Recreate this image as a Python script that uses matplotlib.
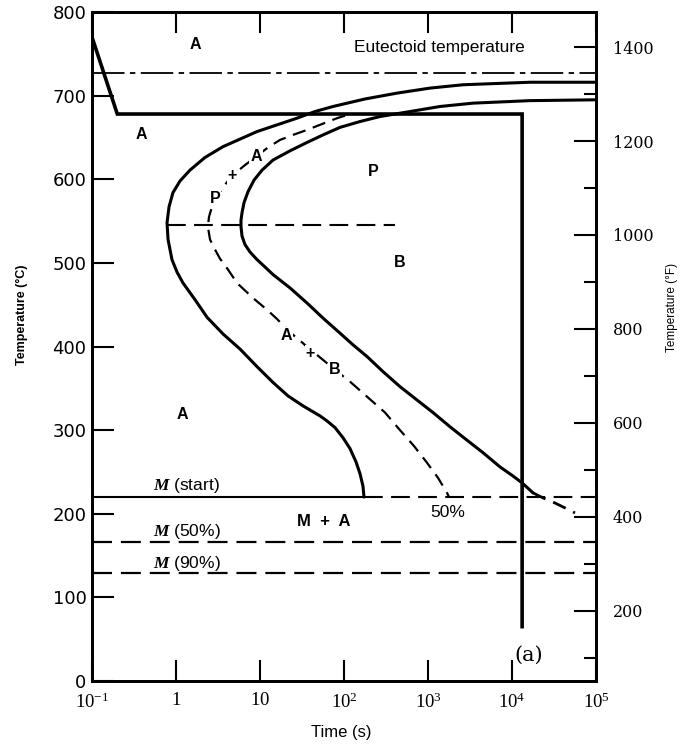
import matplotlib
matplotlib.use("Agg")
import matplotlib.pyplot as plt
from matplotlib.ticker import FixedLocator, NullLocator, FixedFormatter

plt.rcParams['font.family'] = ['Liberation Sans', 'DejaVu Sans']
plt.rcParams['mathtext.fontset'] = 'custom'
plt.rcParams['mathtext.rm'] = 'Liberation Serif'
plt.rcParams['mathtext.it'] = 'Liberation Serif:italic:bold'
plt.rcParams['mathtext.bf'] = 'Liberation Serif:bold'

# ---------------- data ----------------
# transformation start curve (solid)
start_time = [1e5, 16370, 2612, 1057, 428, 178, 74.0, 45.2, 27.5, 15.9,
              9.20, 5.78, 3.63, 2.21, 1.47, 1.117, 0.920, 0.826, 0.782, 0.804,
              0.895, 1.028, 1.211, 1.683, 2.339, 3.63, 5.78, 9.20, 14.29, 21.5,
              32.5, 51.8, 62.8, 78.2, 97.2, 117.8, 139.0, 155.0, 168.3, 173.0]
start_temp = [716, 716, 713, 709, 703, 696, 687, 681, 673, 665,
              657, 648, 639, 626, 611, 598, 584, 567, 548, 528,
              504, 489, 476, 456, 435, 415, 397, 376, 357, 341,
              329, 317, 311, 303, 291, 278, 262, 248, 233, 220]

# 50 % transformation curve (dashed)
half_time = [102.8, 82.6, 54.7, 36.3, 24.7, 17.3, 12.45, 8.96, 6.45, 4.64,
             3.73, 2.99, 2.68, 2.47, 2.40, 2.54, 2.91, 3.34, 4.16, 5.32,
             6.62, 8.71, 12.1, 15.9, 19.9, 24.7, 32.5, 39.4, 49.0, 62.8,
             78.2, 117.8, 188, 308, 464, 681, 973, 1315, 1683, 1778]
half_temp = [676, 673, 666, 659, 653, 647, 638, 627, 616, 604,
             592, 578, 567, 555, 543, 528, 516, 505, 492, 476,
             467, 456, 444, 433, 423, 414, 404, 396, 389, 380,
             372, 358, 340, 321, 300, 281, 261, 243, 225, 220]

# transformation finish curve (solid part, then dashed tail)
finish_time = [1e5, 16370, 3436, 1389, 611, 405, 268, 155, 89.5, 56.2,
               36.3, 22.8, 14.3, 10.6, 8.49, 7.19, 6.45, 6.11, 5.94, 5.94,
               6.11, 6.62, 7.60, 9.20, 11.48, 14.29, 22.8, 36.3, 56.2, 89.5,
               128, 188, 291, 464, 740, 1148, 1828, 2911, 4519, 7194,
               10000, 13150, 17780]
finish_temp = [695, 694, 691, 687, 681, 678, 675, 669, 662, 653,
               644, 634, 623, 611, 599, 585, 572, 560, 551, 543,
               532, 522, 513, 504, 495, 486, 470, 452, 434, 416,
               402, 388, 370, 352, 336, 321, 304, 288, 273, 256,
               246, 237, 225]
finish_tail_time = [17780, 23390, 30760, 42760, 56230]
finish_tail_temp = [225, 219, 214, 207, 201]

# cooling path
cool_time = [0.1, 0.2, 1.32e4, 1.32e4]
cool_temp = [770, 678, 678, 65]

eutectoid_temp = 727
ms_temp = 220
m50_temp = 166
m90_temp = 129
bay_temp = 545
bay_time = [0.78, 405]

x_ticks = [1e-1, 1, 10, 1e2, 1e3, 1e4, 1e5]
x_labels = ['$10^{-1}$', '$1$', '$10$', '$10^{2}$', '$10^{3}$', '$10^{4}$', '$10^{5}$']
c_ticks = [0, 100, 200, 300, 400, 500, 600, 700, 800]
f_ticks = [200, 400, 600, 800, 1000, 1200, 1400]
f_minor = [100, 300, 500, 700, 900, 1100, 1300]
f_limits = [50, 1475]

# region labels: text, time, temperature
open_labels = [("A", 1.68, 761), ("A", 0.383, 653), ("P", 221, 609),
               ("B", 464, 501), ("A", 1.18, 319)]
curve_labels = [("A", 8.96, 627), ("+", 4.64, 604), ("P", 2.91, 577),
                ("A", 20.4, 413), ("+", 39.4, 392), ("B", 78, 372)]

# ---------------- figure ----------------
W, H = 685, 744
fig = plt.figure(figsize=(W / 100, H / 100), dpi=100)
ax = fig.add_axes([92 / W, 63 / H, 504 / W, 669 / H])
ax.set_xscale('log')
ax.set_xlim(1e-1, 1e5)
ax.set_ylim(0, 800)

k = 'black'
solid = dict(color=k, lw=2.2, solid_joinstyle='round', solid_capstyle='round', zorder=3)
ax.plot(start_time, start_temp, **solid)
ax.plot(half_time, half_temp, color=k, lw=1.6, dashes=(6, 3.5), zorder=3)
ax.plot(finish_time, finish_temp, **solid)
ax.plot(finish_tail_time, finish_tail_temp, color=k, lw=2.0, dashes=(5, 3), zorder=3)
ax.plot(cool_time, cool_temp, color=k, lw=2.6, solid_joinstyle='miter', zorder=4)

ax.axhline(eutectoid_temp, color=k, lw=1.3, dashes=(18, 3, 3, 3))
ax.plot([1e-1, start_time[-1]], [ms_temp, ms_temp], color=k, lw=1.5)
ax.plot([start_time[-1], 1e5], [ms_temp, ms_temp], color=k, lw=1.5, dashes=(9, 4))
ax.axhline(m50_temp, color=k, lw=1.6, dashes=(9, 4))
ax.axhline(m90_temp, color=k, lw=1.6, dashes=(9, 4))
ax.plot(bay_time, [bay_temp, bay_temp], color=k, lw=1.5, dashes=(9, 4))

# ---- axes styling ----
for s in ax.spines.values():
    s.set_linewidth(2.0)
ax.xaxis.set_major_locator(FixedLocator(x_ticks))
ax.xaxis.set_major_formatter(FixedFormatter(x_labels))
ax.xaxis.set_minor_locator(NullLocator())
ax.yaxis.set_major_locator(FixedLocator(c_ticks))
ax.yaxis.set_minor_locator(NullLocator())
ax.tick_params(axis='x', which='major', direction='in', length=15, width=1.5,
               top=True, bottom=True, labelsize=13.5, pad=8)
ax.tick_params(axis='y', which='major', direction='in', length=16, width=1.5,
               left=True, right=False, labelsize=13, pad=4)
for lab in ax.get_yticklabels():
    lab.set_family('DejaVu Sans')

ax2 = ax.twinx()
ax2.set_ylim(*f_limits)
ax2.yaxis.set_major_locator(FixedLocator(f_ticks))
ax2.yaxis.set_minor_locator(FixedLocator(f_minor))
ax2.tick_params(axis='y', which='major', direction='in', length=16, width=1.5,
                labelsize=11.5, pad=12)
ax2.tick_params(axis='y', which='minor', direction='in', length=9, width=1.5)
for lab in ax2.get_yticklabels():
    lab.set_family('DejaVu Serif')
for s in ax2.spines.values():
    s.set_linewidth(2.0)

# ---- texts ----
for txt, t, T in open_labels:
    ax.text(t, T, txt, ha='center', va='center', fontsize=11.5, fontweight='bold')
for txt, t, T in curve_labels:
    ax.text(t, T, txt, ha='center', va='center', fontsize=11.5, fontweight='bold',
            zorder=5, bbox=dict(facecolor='white', edgecolor='none', pad=0.6))

ax.text(1380, 757, 'Eutectoid temperature', ha='center', va='center', fontsize=12.5)
ax.text(0.53, 234, '$M$ (start)', ha='left', va='center', fontsize=12.5)
ax.text(0.53, 179, '$M$ (50%)', ha='left', va='center', fontsize=12.5)
ax.text(0.53, 141, '$M$ (90%)', ha='left', va='center', fontsize=12.5)
ax.text(57.8, 191, 'M  +  A', ha='center', va='center', fontsize=12, fontweight='bold')
ax.text(1740, 201, '50%', ha='center', va='center', fontsize=12.5)
ax.text(1.58e4, 31, '(a)', ha='center', va='center', fontsize=15, family='DejaVu Serif')

fig.text(22 / W, 1 - 315 / H, 'Temperature (°C)', rotation=90, ha='center', va='center',
         fontsize=9, fontweight='bold')
fig.text(672 / W, 1 - 307 / H, 'Temperature (°F)', rotation=90, ha='center', va='center',
         fontsize=8.5)
fig.text(341 / W, 1 - 733 / H, 'Time (s)', ha='center', va='center', fontsize=12)

fig.savefig('out.png', dpi=100)
